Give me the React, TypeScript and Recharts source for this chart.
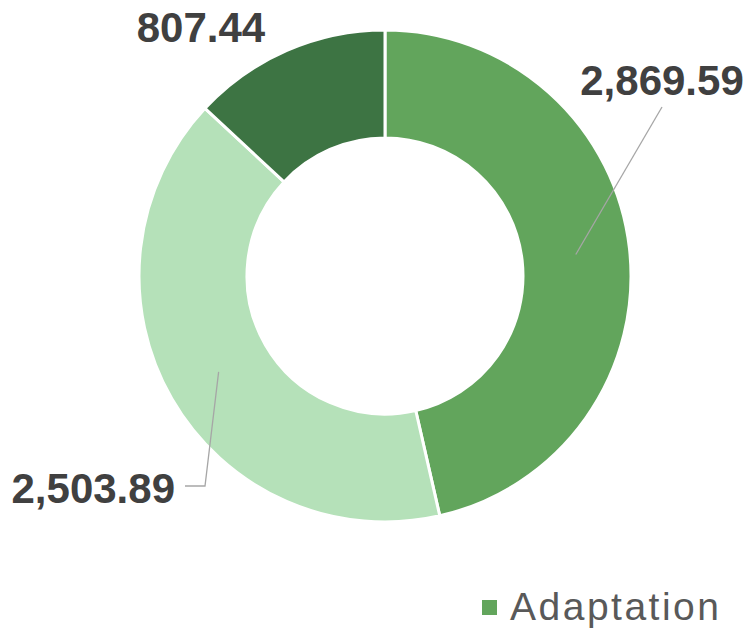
import React from "react";
import { PieChart, Pie, Cell, Legend } from "recharts";

const categories = ["Adaptation", "Mitigation", "Cross-cutting"];
const values = [2869.59, 2503.89, 807.44];
const legendNames = ["Adaptation"];

const COLORS = ["#62A55C", "#B5E1B9", "#3D7443"];
const RAD = Math.PI / 180;

const data = categories.map((name, i) => ({ name, value: values[i] }));

// label layout offsets relative to the pie centre (Excel-style placement)
const labelLayout = [
  { line: [[277, -169]], text: [277, -181], anchor: "middle" },
  { line: [[-180, 210], [-200, 210]], text: [-210, 227], anchor: "end" },
  { line: [], text: [-184, -234], anchor: "middle" },
];

const fmt = (v: number) =>
  v.toLocaleString("en-US", { minimumFractionDigits: 2, maximumFractionDigits: 2 });

const renderLabel = (props: any) => {
  const { cx, cy, midAngle, innerRadius, outerRadius, index, value } = props;
  const lay = labelLayout[index];
  const r = (innerRadius + outerRadius) / 2;
  const sx = cx + r * Math.cos(-midAngle * RAD);
  const sy = cy + r * Math.sin(-midAngle * RAD);
  const pts = [[sx, sy], ...lay.line.map(([dx, dy]) => [cx + dx, cy + dy])];
  return (
    <g>
      {lay.line.length > 0 && (
        <polyline
          points={pts.map((p) => p.join(",")).join(" ")}
          fill="none"
          stroke="#A6A6A6"
          strokeWidth={1.3}
        />
      )}
      <text
        x={cx + lay.text[0]}
        y={cy + lay.text[1]}
        textAnchor={lay.anchor}
        fill="#404040"
        fontFamily="'Liberation Sans', Arial, sans-serif"
        fontWeight="bold"
        fontSize={42}
      >
        {fmt(value)}
      </text>
    </g>
  );
};

const renderLegend = () => (
  <div style={{ display: "flex", alignItems: "center" }}>
    {legendNames.map((n, i) => (
      <div key={n} style={{ display: "flex", alignItems: "center" }}>
        <div style={{ width: 15, height: 15, background: COLORS[i], marginRight: 13 }} />
        <span
          style={{
            fontFamily: "'Liberation Sans', Arial, sans-serif",
            fontSize: 39,
            color: "#595959",
            letterSpacing: 2.5,
            lineHeight: "40px",
          }}
        >
          {n}
        </span>
      </div>
    ))}
  </div>
);

export default function App() {
  return (
    <div style={{ position: "absolute", left: 0, top: 0, background: "#fff" }}>
      <PieChart width={749} height={630} margin={{ top: 0, right: 0, bottom: 0, left: 0 }}>
        <Pie
          data={data}
          dataKey="value"
          nameKey="name"
          cx={385}
          cy={276}
          innerRadius={138}
          outerRadius={246}
          startAngle={90}
          endAngle={-270}
          stroke="#FFFFFF"
          strokeWidth={3}
          label={renderLabel}
          labelLine={false}
          isAnimationActive={false}
        >
          {data.map((d, i) => (
            <Cell key={d.name} fill={COLORS[i]} />
          ))}
        </Pie>
        <Legend
          content={renderLegend}
          wrapperStyle={{ position: "absolute", left: 482, top: 587, width: "auto" }}
        />
      </PieChart>
    </div>
  );
}
